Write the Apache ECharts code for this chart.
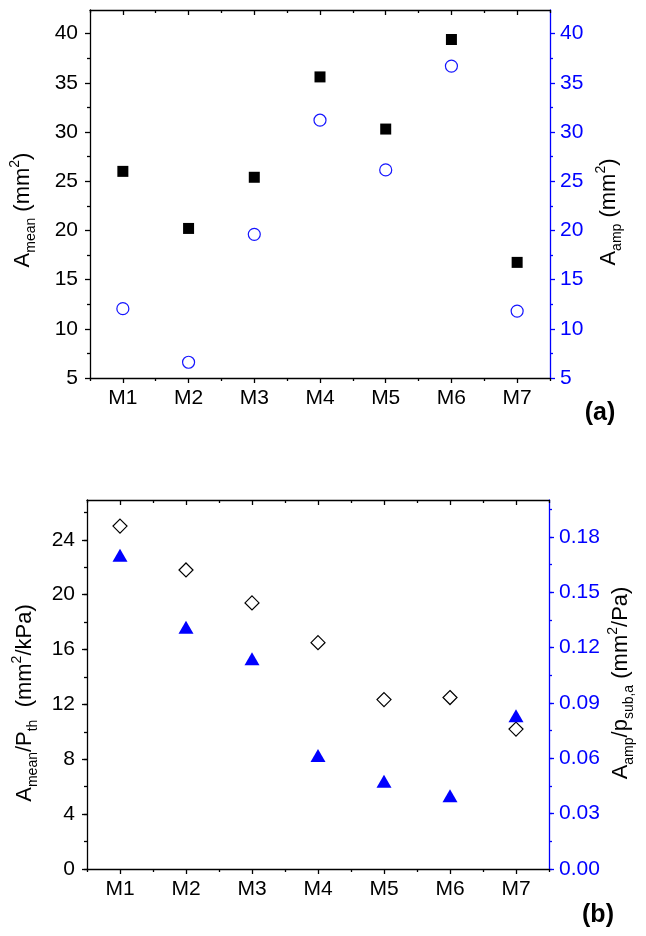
<!DOCTYPE html>
<html><head><meta charset="utf-8">
<script src="https://cdn.jsdelivr.net/npm/echarts@6/dist/echarts.min.js"></script>
<style>html,body{margin:0;padding:0;background:#fff}#c{width:646px;height:936px}</style>
</head><body><div id="c"></div>
<script>
// ---- data ----
const categories = ['M1', 'M2', 'M3', 'M4', 'M5', 'M6', 'M7'];
const aMean = [26.0, 20.2, 25.4, 35.6, 30.3, 39.4, 16.75];          // (a) left, black squares
const aAmp = [12.05, 6.6, 19.6, 31.2, 26.15, 36.7, 11.8];           // (a) right, blue circles
const aMeanPerPth = [25.0, 21.8, 19.4, 16.5, 12.35, 12.5, 10.2];    // (b) left, open diamonds
const aAmpPerPsub = [0.170, 0.131, 0.114, 0.0615, 0.0475, 0.0397, 0.083]; // (b) right, blue triangles
const topTickMin = 5, topTickMax = 40, topTickStep = 5;
const botLeftTickMax = 24, botLeftTickStep = 4;
const botRightTickMax = 0.18, botRightTickStep = 0.03;

// ---- layout / style ----
const FONT = 'Liberation Sans, Arial, sans-serif';
const BLUE = '#0000ff';
const LW = 1.3;
const TICKFS = 21;
const TOP = { left: 90, width: 460, top: 10, height: 368, range: [5, 42.4] };
const BOT = { left: 87, width: 462, top: 500, height: 369, rangeL: [0, 26.9], rangeR: [0, 0.2] };

function subGrid(fr, range, vmax) {
  const bottom = fr.top + fr.height;
  const top = fr.top + fr.height * (range[1] - vmax) / (range[1] - range[0]);
  return { left: fr.left, width: fr.width, top: top, height: bottom - top, outerBoundsMode: 'none' };
}
function frameGrid(fr) {
  return { left: fr.left, width: fr.width, top: fr.top, height: fr.height, outerBoundsMode: 'none' };
}

const grids = [
  frameGrid(TOP),                                   // 0
  subGrid(TOP, TOP.range, topTickMax),              // 1
  frameGrid(BOT),                                   // 2
  subGrid(BOT, BOT.rangeL, botLeftTickMax),         // 3
  subGrid(BOT, BOT.rangeL, 26),                     // 4 minor left
  subGrid(BOT, BOT.rangeR, botRightTickMax),        // 5
  subGrid(BOT, BOT.rangeR, 0.195)                   // 6 minor right
];

function frameX(g) {
  const base = { type: 'category', data: categories, gridIndex: g, boundaryGap: true, splitLine: { show: false } };
  const ls = { color: '#000', width: LW };
  return [
    Object.assign({}, base, { position: 'bottom',
      axisLine: { show: true, onZero: false, lineStyle: ls },
      axisTick: { show: true, alignWithLabel: true, inside: false, length: 5, lineStyle: ls },
      axisLabel: { show: true, color: '#000', fontSize: TICKFS, fontFamily: FONT, margin: 10 } }),
    Object.assign({}, base, { position: 'bottom',
      axisLine: { show: false, onZero: false },
      axisTick: { show: true, alignWithLabel: false, inside: false, length: 3, lineStyle: ls },
      axisLabel: { show: false } }),
    Object.assign({}, base, { position: 'top',
      axisLine: { show: true, onZero: false, lineStyle: ls },
      axisTick: { show: true, alignWithLabel: true, inside: true, length: 5, lineStyle: ls },
      axisLabel: { show: false } }),
    Object.assign({}, base, { position: 'top',
      axisLine: { show: false, onZero: false },
      axisTick: { show: true, alignWithLabel: false, inside: true, length: 3, lineStyle: ls },
      axisLabel: { show: false } })
  ];
}
function hiddenX(g) {
  return { type: 'category', data: categories, gridIndex: g, show: false, boundaryGap: true };
}
function frameY(g, pos, color) {
  return { type: 'value', gridIndex: g, position: pos, min: 0, max: 1,
    axisLine: { show: true, onZero: false, lineStyle: { color: color, width: LW } },
    axisTick: { show: false }, axisLabel: { show: false }, splitLine: { show: false } };
}
function tickY(g, pos, color, min, max, step, opts) {
  const ls = { color: color, width: LW };
  return Object.assign({ type: 'value', gridIndex: g, position: pos, min: min, max: max, interval: step,
    axisLine: { show: false, onZero: false },
    axisTick: { show: true, inside: false, length: 5, lineStyle: ls },
    minorTick: { show: false },
    axisLabel: { show: true, color: color, fontSize: TICKFS, fontFamily: FONT, margin: pos === 'left' ? 12 : 10 },
    splitLine: { show: false }, minorSplitLine: { show: false } }, opts || {});
}

const xAxes = [].concat(
  frameX(0),          // 0-3
  [hiddenX(1)],       // 4
  frameX(2),          // 5-8
  [hiddenX(3), hiddenX(4), hiddenX(5), hiddenX(6)]  // 9-12
);

const yAxes = [
  frameY(0, 'left', '#000'),                                     // 0
  frameY(0, 'right', BLUE),                                      // 1
  tickY(1, 'left', '#000', topTickMin, topTickMax, topTickStep,
        { minorTick: { show: true, splitNumber: 2, length: 3, lineStyle: { color: '#000', width: LW } } }), // 2
  tickY(1, 'right', BLUE, topTickMin, topTickMax, topTickStep,
        { minorTick: { show: true, splitNumber: 2, length: 3, lineStyle: { color: BLUE, width: LW } } }),   // 3
  frameY(2, 'left', '#000'),                                     // 4
  frameY(2, 'right', BLUE),                                      // 5
  tickY(3, 'left', '#000', 0, botLeftTickMax, botLeftTickStep),  // 6
  tickY(4, 'left', '#000', 0, 26, 2,
        { axisTick: { show: true, length: 3, lineStyle: { color: '#000', width: LW } }, axisLabel: { show: false } }), // 7
  tickY(5, 'right', BLUE, 0, botRightTickMax, botRightTickStep,
        { axisLabel: { show: true, color: BLUE, fontSize: TICKFS, fontFamily: FONT, margin: 10, formatter: v => v.toFixed(2) } }), // 8
  tickY(6, 'right', BLUE, 0, 0.195, 0.015,
        { axisTick: { show: true, length: 3, lineStyle: { color: BLUE, width: LW } }, axisLabel: { show: false } })   // 9
];

const common = { clip: false, emphasis: { disabled: true }, silent: true };
const series = [
  Object.assign({ type: 'scatter', xAxisIndex: 4, yAxisIndex: 2, data: aMean, symbol: 'rect', symbolSize: 11,
    itemStyle: { color: '#000', opacity: 1 } }, common),
  Object.assign({ type: 'scatter', xAxisIndex: 4, yAxisIndex: 3, data: aAmp, symbol: 'circle', symbolSize: 12,
    itemStyle: { color: '#fff', borderColor: '#1515ff', borderWidth: 1.2, opacity: 1 } }, common),
  Object.assign({ type: 'scatter', xAxisIndex: 9, yAxisIndex: 6, data: aMeanPerPth, symbol: 'diamond', symbolSize: [14, 14],
    itemStyle: { color: '#fff', borderColor: '#000', borderWidth: 1.2, opacity: 1 } }, common),
  Object.assign({ type: 'scatter', xAxisIndex: 11, yAxisIndex: 8, data: aAmpPerPsub, symbol: 'triangle', symbolSize: [15, 13],
    itemStyle: { color: BLUE, opacity: 1 } }, common)
];

const rich = {
  m: { fontSize: 22, fontFamily: FONT, color: '#000', lineHeight: 30 },
  s: { fontSize: 14, fontFamily: FONT, color: '#000', lineHeight: 10, verticalAlign: 'bottom' },
  p: { fontSize: 14, fontFamily: FONT, color: '#000', lineHeight: 6, verticalAlign: 'top' }
};
function vtext(x, y, text) {
  return { type: 'text', x: x, y: y, rotation: Math.PI / 2, silent: true,
    style: { text: text, rich: rich, align: 'center', verticalAlign: 'middle',
             textAlign: 'center', textVerticalAlign: 'middle' } };
}
function label(x, y, text) {
  return { type: 'text', x: x, y: y, silent: true,
    style: { text: text, fontSize: 25, fontWeight: 'bold', fontFamily: FONT, fill: '#000',
             align: 'center', verticalAlign: 'middle', textAlign: 'center', textVerticalAlign: 'middle' } };
}

const graphics = [
  vtext(23, 210, '{m|A}{s|mean}{m| (mm}{p|2}{m|)}'),
  vtext(609, 212, '{m|A}{s|amp}{m| (mm}{p|2}{m|)}'),
  vtext(25, 703, '{m|A}{s|mean}{m|/P}{s|th}{m|  (mm}{p|2}{m|/kPa)}'),
  vtext(621, 683, '{m|A}{s|amp}{m|/p}{s|sub,a}{m| (mm}{p|2}{m|/Pa)}'),
  label(600, 413, '(a)'),
  label(598, 915, '(b)')
];

const chart = echarts.init(document.getElementById('c'), null, { renderer: 'canvas' });
chart.setOption({
  animation: false,
  backgroundColor: '#fff',
  grid: grids,
  xAxis: xAxes,
  yAxis: yAxes,
  series: series,
  graphic: graphics
});
</script>
</body></html>
